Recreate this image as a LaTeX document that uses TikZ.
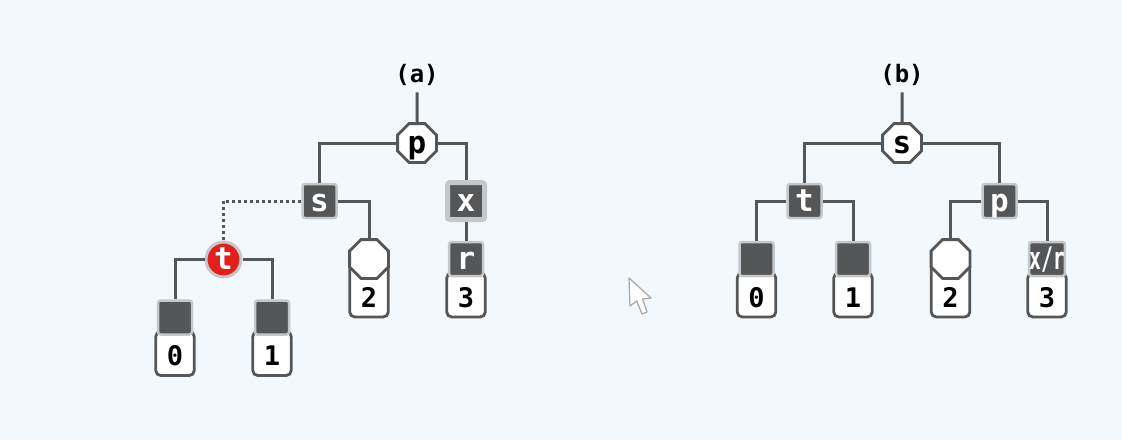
\documentclass[tikz,border=0pt]{standalone}
\usepackage{fontspec}
\setmonofont{DejaVu Sans Mono}
\usetikzlibrary{positioning,shapes.geometric}
\definecolor{paper}{HTML}{F3F8FC}
\definecolor{slate}{HTML}{555657}
\definecolor{halo}{HTML}{C4C8CB}
\definecolor{hot}{HTML}{E2201A}

\begin{document}
\begin{tikzpicture}[x=1pt,y=1pt,on grid,
	wire/.style={draw=slate,line width=3pt},
	elbow/.style={to path={-| (\tikztotarget)}},
	letter/.style={font=\fontsize{31}{31}\selectfont\ttfamily\bfseries,inner sep=0pt,text height=20pt,text depth=0pt},
	dark/.style={letter,rectangle,rounded corners=2.5pt,minimum size=34pt,fill=slate,draw=halo,line width=2.5pt,text=white},
	thick halo/.style={dark,minimum size=37pt,line width=5pt},
	octa/.style={letter,regular polygon,regular polygon sides=8,minimum size=42pt,fill=white,draw=slate,line width=2.8pt,text=black},
	hotball/.style={letter,circle,minimum size=35pt,fill=hot,draw=halo,line width=3pt,text=white},
	pocket/.style={font=\fontsize{27}{27}\selectfont\ttfamily\bfseries,inner sep=0pt,minimum width=38.5pt,text height=46pt,text depth=10pt,rounded corners=5pt,fill=white,draw=slate,line width=2.8pt,text=black},
	stub/.style={pocket,text height=34pt},
	caption/.style={font=\fontsize{24}{24}\selectfont\ttfamily\bfseries,inner sep=7pt,text=black}]

\useasboundingbox[fill=paper] (0,0) rectangle (1122,-440);

% tree (a)
\node[octa]   (pa) at (417,-143)      {p};
\node[caption]  (capa)[above=68.5pt of pa]    {(a)};
\node[dark]   (sa)[below left=58pt and 97.5pt of pa]     {s};
\node[thick halo]   (xa)[below right=58pt and 49pt of pa]     {x};
\node[hotball]   (ta)[below left=58.5pt and 96pt of sa]    {t};

\node[stub]   (ka0)[below left=94pt and 48.5pt of ta]    {0};
\node[stub]   (ka1)[below right=94pt and 48.5pt of ta]   {1};
\node[pocket]   (ka2)[below right=88pt and 49.5pt of sa]   {2};
\node[stub]   (ka3)[below=94pt of xa]    {3};

\node[dark]   (la0)[above=36pt of ka0]    {};
\node[dark]   (la1)[above=36pt of ka1]    {};
\node[octa]   (la2)[above=30pt of ka2]    {};
\node[dark]   (ra)[above=36pt of ka3]     {r};

	\path[wire] (capa)  edge	(pa)
				(pa)  edge[elbow]	(sa)
					edge[elbow]	(xa)
				(sa)  edge[elbow,dash pattern=on 3pt off 3pt]	(ta)
					edge[elbow]	(la2)
				(xa)  edge	(ra)
				(ta)  edge[elbow]	(la0)
					edge[elbow]	(la1);

% tree (b)
\node[octa]   (sb) at (902,-143)      {s};
\node[caption]  (capb)[above=68.5pt of sb]    {(b)};
\node[dark]   (tb)[below left=58pt and 97.5pt of sb]     {t};
\node[dark]   (pb)[below right=58pt and 97.5pt of sb]    {p};

\node[stub]   (kb0)[below left=94pt and 48pt of tb]     {0};
\node[stub]   (kb1)[below right=94pt and 48.5pt of tb]  {1};
\node[pocket]   (kb2)[below left=88pt and 49pt of pb]     {2};
\node[stub]   (kb3)[below right=94pt and 47.5pt of pb]  {3};

\node[dark]   (lb0)[above=36pt of kb0]    {};
\node[dark]   (lb1)[above=36pt of kb1]    {};
\node[octa]   (lb2)[above=30pt of kb2]    {};
\node[dark]   (rb)[above=36pt of kb3]     {\scalebox{.64}[1]{x/r}};

	\path[wire] (capb)  edge	(sb)
				(sb)  edge[elbow]	(tb)
					edge[elbow]	(pb)
				(tb)  edge[elbow]	(lb0)
					edge[elbow]	(lb1)
				(pb)  edge[elbow]	(lb2)
					edge[elbow]	(rb);

% pointer
\draw[draw=gray!70,fill=white,line width=1.2pt,line join=round] (629,-278) -- (651,-298) -- (642.7,-299) -- (647,-312) -- (642,-314) -- (636.7,-301) -- (630,-306) -- cycle;
\end{tikzpicture}
\end{document}
